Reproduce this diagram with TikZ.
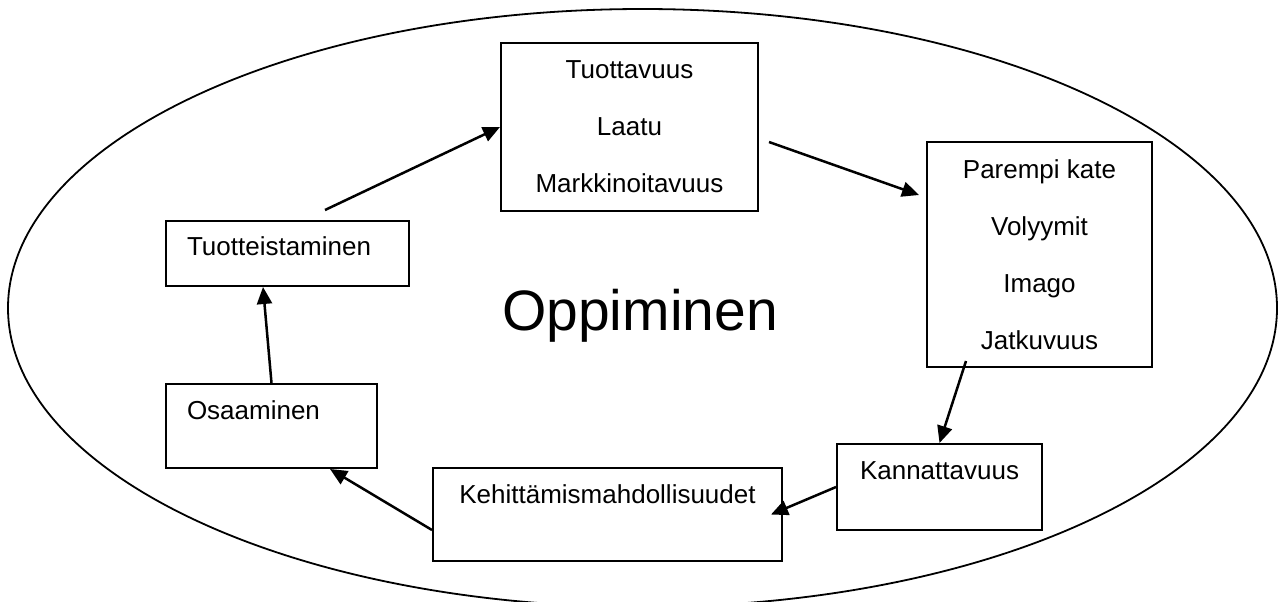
\documentclass[tikz,border=0pt]{standalone}
\usepackage{fontspec}
\setmainfont{Liberation Sans}
\usetikzlibrary{arrows.meta}
\def\outerellipse{(642.5,308) ellipse (317.25pt and 149.5pt)}

\begin{document}
\begin{tikzpicture}[x=0.5pt,y=-0.5pt,
    font=\fontsize{13}{28.5}\selectfont,
    box/.style={draw,line width=1pt,inner sep=0pt,align=center},
    arr/.style={-{Triangle[length=8.5pt,width=7.5pt]},line width=1.25pt}]
    \useasboundingbox (0,0) rectangle (1278,601);
    \clip (0,0) rectangle (1278,601);
    \draw[line width=0.9pt] \outerellipse;
    \node[box,minimum width=128.5pt,minimum height=84pt] (tuottavuus) at (629.5,127) {Tuottavuus\\Laatu\\Markkinoitavuus};
    \node[box,minimum width=112.5pt,minimum height=112.5pt] (parempi) at (1039.5,254.5) {Parempi kate\\Volyymit\\Imago\\Jatkuvuus};
    \node[box,minimum width=102.5pt,minimum height=43pt,text height=9.5pt,text depth=17.5pt] (kannattavuus) at (939.5,487) {Kannattavuus};
    \node[box,minimum width=174.5pt,minimum height=46.5pt,text height=9.5pt,text depth=21pt] (kehitys) at (607.5,514.5) {Kehittämismahdollisuudet};
    \node[box,inner xsep=10.5pt,text width=84.5pt,align=left,minimum height=42pt,text height=9.5pt,text depth=16.5pt] (osaaminen) at (271.5,426) {Osaaminen};
    \node[box,inner xsep=10.5pt,text width=100.5pt,align=left,minimum height=32.5pt,text height=9.5pt,text depth=8pt] (tuotteistaminen) at (287.5,253.5) {Tuotteistaminen};
    \node[anchor=base,font=\fontsize{28.5}{34}\selectfont] (oppiminen) at (640,330) {Oppiminen};
    \draw[arr] ([xshift=18.75pt,yshift=5pt]tuotteistaminen.north) -- (tuottavuus.west);
    \draw[arr] ([xshift=5pt,yshift=-7.5pt]tuottavuus.east) -- ([xshift=-3.5pt,yshift=29.75pt]parempi.west);
    \draw[arr] ([xshift=-36.75pt,yshift=3.5pt]parempi.south) -- (kannattavuus.north);
    \draw[arr] (kannattavuus.west) -- ([xshift=-6pt]kehitys.east);
    \draw[arr] ([yshift=-7.75pt]kehitys.west) -- ([xshift=29.25pt]osaaminen.south);
    \draw[arr] (osaaminen.north) -- ([xshift=-12.25pt]tuotteistaminen.south);
\end{tikzpicture}
\end{document}
